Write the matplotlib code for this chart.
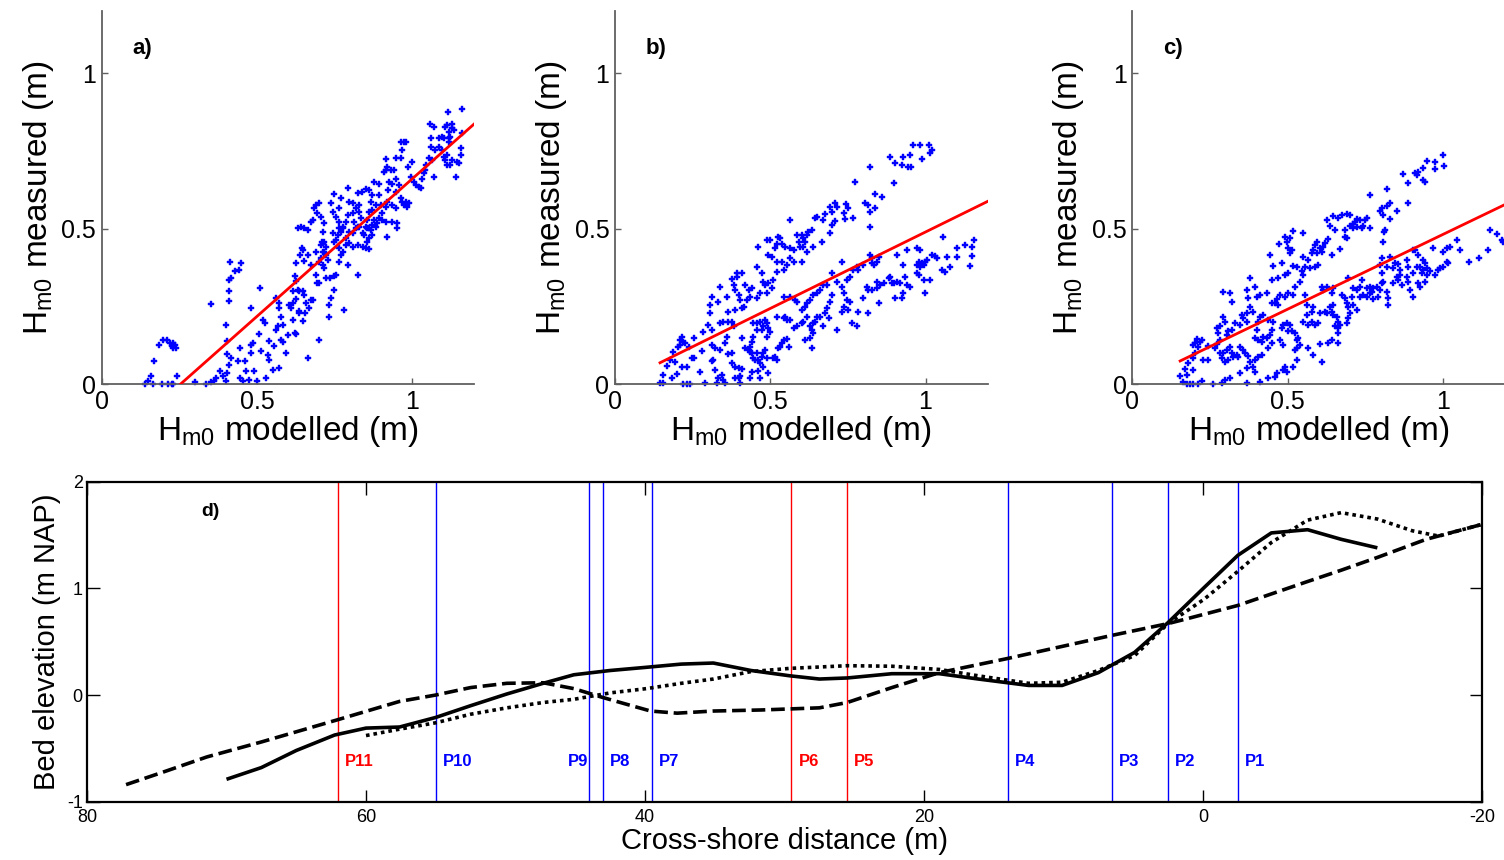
import matplotlib
matplotlib.use('Agg')
import matplotlib.pyplot as plt
import numpy as np

plt.rcParams['font.family'] = ['Liberation Sans', 'DejaVu Sans']
plt.rcParams['axes.unicode_minus'] = False
plt.rcParams['mathtext.fontset'] = 'custom'
plt.rcParams['mathtext.rm'] = 'Liberation Sans'
plt.rcParams['mathtext.it'] = 'Liberation Sans'

# ---------------- data: panel a (modelled, measured) ----------------
hm0_a = [
    (0.139, 0.000), (0.150, 0.011), (0.160, 0.025), (0.166, 0.000), (0.193, 0.000), (0.214, 0.000),
    (0.225, 0.000), (0.230, 0.000), (0.243, 0.027), (0.168, 0.073), (0.184, 0.124), (0.198, 0.143),
    (0.209, 0.143), (0.219, 0.132), (0.230, 0.132), (0.235, 0.127), (0.239, 0.116), (0.230, 0.116),
    (0.225, 0.121), (0.300, 0.007), (0.337, 0.000), (0.353, 0.007), (0.361, 0.011), (0.369, 0.019),
    (0.380, 0.041), (0.391, 0.025), (0.399, 0.009), (0.403, 0.036), (0.410, 0.060), (0.403, 0.097),
    (0.417, 0.084), (0.403, 0.139), (0.401, 0.191), (0.353, 0.257), (0.409, 0.266), (0.409, 0.298),
    (0.410, 0.335), (0.417, 0.340), (0.414, 0.394), (0.428, 0.362), (0.442, 0.367), (0.449, 0.389),
    (0.444, 0.116), (0.439, 0.073), (0.444, 0.019), (0.455, 0.009), (0.460, 0.073), (0.465, 0.041),
    (0.476, 0.014), (0.481, 0.100), (0.481, 0.127), (0.487, 0.132), (0.481, 0.246), (0.492, 0.041),
    (0.500, 0.009), (0.508, 0.161), (0.510, 0.308), (0.514, 0.105), (0.519, 0.207), (0.527, 0.196),
    (0.530, 0.019), (0.535, 0.094), (0.540, 0.078), (0.540, 0.137), (0.551, 0.046), (0.556, 0.121),
    (0.560, 0.175), (0.562, 0.278), (0.567, 0.185), (0.570, 0.260), (0.572, 0.244), (0.578, 0.217),
    (0.583, 0.191), (0.578, 0.143), (0.583, 0.135), (0.572, 0.052), (0.594, 0.100), (0.599, 0.159),
    (0.602, 0.255), (0.610, 0.244), (0.617, 0.260), (0.615, 0.207), (0.621, 0.164), (0.626, 0.161),
    (0.626, 0.274), (0.634, 0.234), (0.637, 0.228), (0.647, 0.204), (0.656, 0.228), (0.663, 0.084),
    (0.658, 0.260), (0.669, 0.244), (0.674, 0.271), (0.679, 0.271), (0.637, 0.298), (0.631, 0.303),
    (0.647, 0.298), (0.653, 0.287), (0.615, 0.298), (0.621, 0.346), (0.626, 0.330), (0.626, 0.389),
    (0.640, 0.415), (0.645, 0.437), (0.649, 0.432), (0.653, 0.396), (0.663, 0.415), (0.674, 0.383),
    (0.690, 0.351), (0.690, 0.426), (0.695, 0.324), (0.701, 0.324), (0.701, 0.143), (0.709, 0.458),
    (0.714, 0.453), (0.717, 0.426), (0.722, 0.442), (0.733, 0.255), (0.738, 0.276), (0.733, 0.217),
    (0.747, 0.303), (0.722, 0.340), (0.717, 0.373), (0.728, 0.399), (0.735, 0.340), (0.749, 0.346),
    (0.754, 0.351), (0.763, 0.394), (0.770, 0.415), (0.776, 0.426), (0.781, 0.239), (0.792, 0.383),
    (0.786, 0.447), (0.797, 0.453), (0.808, 0.442), (0.824, 0.351), (0.827, 0.447), (0.840, 0.442),
    (0.851, 0.437), (0.861, 0.435), (0.856, 0.458), (0.861, 0.469), (0.846, 0.480), (0.853, 0.501),
    (0.840, 0.485), (0.829, 0.506), (0.819, 0.501), (0.813, 0.522), (0.808, 0.549), (0.792, 0.544),
    (0.786, 0.522), (0.776, 0.506), (0.765, 0.501), (0.770, 0.490), (0.760, 0.480), (0.754, 0.464),
    (0.749, 0.458), (0.744, 0.485), (0.765, 0.522), (0.754, 0.538), (0.765, 0.565), (0.770, 0.597),
    (0.738, 0.581), (0.744, 0.554), (0.749, 0.610), (0.717, 0.517), (0.712, 0.490), (0.706, 0.538),
    (0.695, 0.549), (0.690, 0.576), (0.685, 0.565), (0.701, 0.581), (0.679, 0.528), (0.674, 0.522),
    (0.663, 0.496), (0.653, 0.501), (0.642, 0.506), (0.631, 0.501), (0.717, 0.458), (0.712, 0.426),
    (0.706, 0.447), (0.792, 0.629), (0.797, 0.587), (0.808, 0.581), (0.819, 0.565), (0.824, 0.613),
    (0.829, 0.576), (0.838, 0.619), (0.851, 0.627), (0.861, 0.624), (0.867, 0.587), (0.872, 0.608),
    (0.877, 0.651), (0.872, 0.560), (0.883, 0.576), (0.893, 0.608), (0.893, 0.645), (0.899, 0.576),
    (0.904, 0.549), (0.915, 0.571), (0.920, 0.587), (0.923, 0.624), (0.926, 0.651), (0.915, 0.688),
    (0.920, 0.699), (0.909, 0.683), (0.917, 0.724), (0.931, 0.688), (0.942, 0.688), (0.947, 0.661),
    (0.949, 0.726), (0.963, 0.728), (0.968, 0.752), (0.974, 0.779), (0.963, 0.779), (0.979, 0.779),
    (0.988, 0.699), (0.995, 0.667), (1.000, 0.715), (1.006, 0.651), (1.011, 0.640), (1.022, 0.635),
    (1.027, 0.629), (1.033, 0.661), (1.038, 0.678), (1.041, 0.688), (1.043, 0.704), (1.054, 0.726),
    (1.065, 0.720), (1.070, 0.667), (1.059, 0.763), (1.075, 0.752), (1.086, 0.763), (1.097, 0.752),
    (1.102, 0.731), (1.107, 0.720), (1.113, 0.704), (1.123, 0.704), (1.129, 0.720), (1.145, 0.715),
    (1.150, 0.710), (1.156, 0.736), (1.156, 0.758), (1.140, 0.667), (1.113, 0.736), (1.118, 0.779),
    (1.123, 0.795), (1.129, 0.822), (1.118, 0.811), (1.107, 0.827), (1.113, 0.833), (1.129, 0.835),
    (1.134, 0.817), (1.118, 0.790), (1.097, 0.795), (1.102, 0.790), (1.086, 0.790), (1.059, 0.790),
    (1.057, 0.838), (1.070, 0.827), (1.116, 0.876), (1.159, 0.884), (1.161, 0.806), (0.936, 0.645),
    (0.947, 0.619), (0.958, 0.640), (0.963, 0.597), (0.968, 0.587), (0.974, 0.576), (0.984, 0.571),
    (0.990, 0.581), (0.979, 0.587), (0.936, 0.576), (0.947, 0.565), (0.952, 0.517), (0.952, 0.501),
    (0.936, 0.522), (0.920, 0.474), (0.915, 0.522), (0.904, 0.528), (0.893, 0.533), (0.888, 0.517),
    (0.883, 0.506), (0.872, 0.512), (0.877, 0.528), (0.861, 0.501), (0.867, 0.496), (0.856, 0.528),
    (0.851, 0.506), (0.872, 0.480), (0.861, 0.554), (0.835, 0.533), (0.829, 0.554), (0.824, 0.506),
    (0.808, 0.485), (0.797, 0.490), (0.786, 0.469), (0.778, 0.501), (0.765, 0.437), (0.722, 0.415),
    (0.706, 0.405), (0.701, 0.394), (0.712, 0.383),
]

# ---------------- data: panel b ----------------
hm0_b = [
    (0.961, 0.769), (0.983, 0.769), (1.010, 0.769), (1.021, 0.753), (1.015, 0.744), (0.988, 0.723),
    (0.951, 0.737), (0.929, 0.731), (0.902, 0.710), (0.886, 0.731), (0.924, 0.704), (0.945, 0.697),
    (0.953, 0.697), (0.822, 0.697), (0.774, 0.651), (0.897, 0.648), (0.838, 0.611), (0.859, 0.603),
    (0.806, 0.583), (0.816, 0.576), (0.822, 0.554), (0.838, 0.565), (0.822, 0.506), (0.744, 0.579),
    (0.752, 0.565), (0.736, 0.549), (0.709, 0.583), (0.714, 0.570), (0.693, 0.568), (0.698, 0.554),
    (0.677, 0.547), (0.671, 0.528), (0.650, 0.538), (0.645, 0.533), (0.709, 0.525), (0.741, 0.530),
    (0.768, 0.533), (0.698, 0.511), (0.564, 0.528), (0.693, 0.485), (0.634, 0.495), (0.623, 0.490),
    (0.618, 0.479), (0.602, 0.479), (0.607, 0.469), (0.612, 0.458), (0.586, 0.479), (0.591, 0.458),
    (0.596, 0.442), (0.607, 0.442), (0.639, 0.440), (0.666, 0.458), (0.618, 0.426), (0.602, 0.394),
    (0.575, 0.431), (0.564, 0.436), (0.548, 0.442), (0.537, 0.452), (0.532, 0.469), (0.526, 0.474),
    (0.521, 0.452), (0.516, 0.436), (0.500, 0.463), (0.489, 0.463), (0.462, 0.442), (0.505, 0.410),
    (0.494, 0.415), (0.521, 0.394), (0.537, 0.394), (0.553, 0.383), (0.564, 0.404), (0.575, 0.394),
    (0.543, 0.367), (0.457, 0.377), (0.473, 0.356), (0.478, 0.329), (0.484, 0.318), (0.494, 0.324),
    (0.510, 0.335), (0.521, 0.361), (0.505, 0.308), (0.489, 0.292), (0.467, 0.292), (0.457, 0.276),
    (0.441, 0.308), (0.430, 0.302), (0.419, 0.318), (0.408, 0.356), (0.394, 0.356), (0.392, 0.345),
    (0.376, 0.337), (0.382, 0.318), (0.387, 0.302), (0.398, 0.286), (0.403, 0.270), (0.424, 0.270),
    (0.435, 0.281), (0.414, 0.249), (0.408, 0.243), (0.387, 0.238), (0.365, 0.233), (0.360, 0.281),
    (0.339, 0.313), (0.333, 0.265), (0.312, 0.281), (0.306, 0.254), (0.306, 0.227), (0.301, 0.190),
    (0.339, 0.195), (0.349, 0.201), (0.365, 0.201), (0.376, 0.201), (0.382, 0.185), (0.360, 0.152),
    (0.312, 0.174), (0.285, 0.168), (0.253, 0.147), (0.215, 0.152), (0.210, 0.142), (0.220, 0.136),
    (0.226, 0.131), (0.210, 0.126), (0.204, 0.120), (0.188, 0.104), (0.237, 0.120), (0.247, 0.083),
    (0.253, 0.083), (0.231, 0.054), (0.215, 0.054), (0.194, 0.072), (0.177, 0.077), (0.167, 0.058),
    (0.156, 0.029), (0.183, 0.018), (0.199, 0.031), (0.156, 0.002), (0.145, 0.002), (0.220, 0.000),
    (0.231, 0.000), (0.242, 0.000), (0.274, 0.040), (0.290, 0.002), (0.279, 0.107), (0.312, 0.126),
    (0.322, 0.115), (0.339, 0.109), (0.355, 0.131), (0.365, 0.097), (0.376, 0.099), (0.376, 0.067),
    (0.387, 0.056), (0.398, 0.050), (0.408, 0.047), (0.403, 0.026), (0.387, 0.018), (0.344, 0.029),
    (0.333, 0.018), (0.349, 0.013), (0.355, 0.002), (0.328, 0.002), (0.322, 0.045), (0.312, 0.075),
    (0.317, 0.077), (0.408, 0.147), (0.419, 0.115), (0.430, 0.109), (0.435, 0.120), (0.441, 0.136),
    (0.446, 0.152), (0.446, 0.195), (0.457, 0.195), (0.467, 0.201), (0.473, 0.174), (0.478, 0.185),
    (0.484, 0.206), (0.489, 0.152), (0.489, 0.195), (0.494, 0.179), (0.500, 0.168), (0.457, 0.174),
    (0.435, 0.104), (0.441, 0.099), (0.446, 0.083), (0.451, 0.077), (0.457, 0.099), (0.462, 0.077),
    (0.467, 0.067), (0.473, 0.088), (0.478, 0.099), (0.484, 0.109), (0.489, 0.083), (0.478, 0.056),
    (0.462, 0.043), (0.441, 0.040), (0.435, 0.018), (0.398, 0.018), (0.403, 0.002), (0.467, 0.018),
    (0.494, 0.034), (0.510, 0.083), (0.516, 0.088), (0.521, 0.077), (0.526, 0.115), (0.532, 0.120),
    (0.537, 0.131), (0.543, 0.142), (0.553, 0.144), (0.559, 0.120), (0.548, 0.217), (0.553, 0.206),
    (0.564, 0.206), (0.575, 0.179), (0.586, 0.185), (0.602, 0.195), (0.607, 0.201), (0.618, 0.217),
    (0.629, 0.185), (0.634, 0.174), (0.639, 0.163), (0.612, 0.142), (0.629, 0.147), (0.634, 0.115),
    (0.639, 0.195), (0.645, 0.201), (0.650, 0.217), (0.661, 0.217), (0.671, 0.185), (0.688, 0.211),
    (0.677, 0.227), (0.682, 0.243), (0.693, 0.265), (0.698, 0.286), (0.714, 0.174), (0.731, 0.233),
    (0.736, 0.249), (0.747, 0.270), (0.752, 0.238), (0.757, 0.265), (0.763, 0.195), (0.779, 0.185),
    (0.784, 0.233), (0.800, 0.276), (0.816, 0.230), (0.811, 0.313), (0.816, 0.302), (0.827, 0.302),
    (0.843, 0.308), (0.849, 0.260), (0.843, 0.329), (0.854, 0.318), (0.865, 0.324), (0.881, 0.340),
    (0.892, 0.324), (0.886, 0.345), (0.897, 0.324), (0.902, 0.276), (0.908, 0.329), (0.919, 0.324),
    (0.924, 0.276), (0.929, 0.292), (0.935, 0.345), (0.942, 0.318), (0.951, 0.313), (0.929, 0.383),
    (0.908, 0.415), (0.940, 0.431), (0.972, 0.436), (0.983, 0.431), (0.978, 0.394), (0.972, 0.383),
    (0.983, 0.377), (0.994, 0.383), (0.999, 0.394), (0.988, 0.388), (1.004, 0.399), (0.972, 0.356),
    (0.978, 0.351), (0.994, 0.335), (1.015, 0.335), (0.999, 0.294), (1.021, 0.415), (1.031, 0.412),
    (1.037, 0.404), (1.053, 0.367), (1.064, 0.361), (1.080, 0.377), (1.069, 0.410), (1.101, 0.410),
    (1.101, 0.436), (1.128, 0.447), (1.149, 0.442), (1.155, 0.463), (1.149, 0.412), (1.144, 0.380),
    (1.056, 0.474), (0.827, 0.404), (0.827, 0.388), (0.833, 0.383), (0.843, 0.394), (0.849, 0.410),
    (0.822, 0.415), (0.800, 0.383), (0.779, 0.377), (0.784, 0.367), (0.768, 0.367), (0.757, 0.345),
    (0.747, 0.335), (0.731, 0.313), (0.736, 0.292), (0.714, 0.329), (0.698, 0.356), (0.682, 0.318),
    (0.671, 0.318), (0.661, 0.302), (0.650, 0.292), (0.639, 0.286), (0.629, 0.270), (0.618, 0.260),
    (0.612, 0.249), (0.602, 0.238), (0.586, 0.265), (0.580, 0.270), (0.564, 0.281), (0.543, 0.281),
    (0.543, 0.211), (0.521, 0.217), (0.731, 0.394),
]

# ---------------- data: panel c ----------------
hm0_c = [
    (1.000, 0.737), (0.975, 0.715), (0.948, 0.719), (1.004, 0.701), (0.975, 0.691), (0.937, 0.694),
    (0.921, 0.683), (0.911, 0.678), (0.916, 0.672), (0.873, 0.676), (0.937, 0.656), (0.943, 0.651),
    (0.889, 0.648), (0.819, 0.626), (0.766, 0.608), (0.889, 0.583), (0.830, 0.581), (0.819, 0.573),
    (0.803, 0.565), (0.798, 0.555), (0.809, 0.544), (0.854, 0.558), (0.830, 0.530), (0.814, 0.496),
    (0.811, 0.490), (0.806, 0.458), (0.755, 0.533), (0.750, 0.528), (0.733, 0.528), (0.723, 0.530),
    (0.717, 0.522), (0.712, 0.515), (0.701, 0.508), (0.690, 0.547), (0.701, 0.544), (0.674, 0.544),
    (0.664, 0.533), (0.647, 0.541), (0.626, 0.528), (0.637, 0.508), (0.653, 0.496), (0.685, 0.496),
    (0.712, 0.501), (0.723, 0.504), (0.739, 0.501), (0.744, 0.508), (0.766, 0.501), (0.685, 0.474),
    (0.690, 0.469), (0.631, 0.466), (0.621, 0.453), (0.615, 0.442), (0.605, 0.437), (0.594, 0.458),
    (0.588, 0.447), (0.583, 0.431), (0.578, 0.421), (0.594, 0.421), (0.610, 0.426), (0.669, 0.433),
    (0.642, 0.415), (0.599, 0.383), (0.588, 0.378), (0.567, 0.399), (0.551, 0.410), (0.556, 0.378),
    (0.545, 0.362), (0.572, 0.372), (0.529, 0.378), (0.519, 0.380), (0.508, 0.421), (0.513, 0.431),
    (0.502, 0.437), (0.497, 0.458), (0.508, 0.469), (0.492, 0.474), (0.519, 0.493), (0.551, 0.487),
    (0.473, 0.451), (0.443, 0.415), (0.454, 0.380), (0.481, 0.388), (0.492, 0.351), (0.502, 0.356),
    (0.470, 0.340), (0.449, 0.335), (0.524, 0.313), (0.540, 0.329), (0.551, 0.351), (0.556, 0.287),
    (0.519, 0.287), (0.502, 0.292), (0.492, 0.281), (0.476, 0.287), (0.465, 0.273), (0.460, 0.260),
    (0.470, 0.254), (0.449, 0.260), (0.433, 0.292), (0.411, 0.287), (0.400, 0.281), (0.395, 0.313),
    (0.379, 0.340), (0.368, 0.303), (0.374, 0.276), (0.379, 0.249), (0.390, 0.233), (0.368, 0.227),
    (0.352, 0.222), (0.358, 0.211), (0.368, 0.201), (0.347, 0.190), (0.331, 0.195), (0.320, 0.265),
    (0.293, 0.297), (0.315, 0.292), (0.293, 0.217), (0.298, 0.201), (0.282, 0.185), (0.272, 0.179),
    (0.277, 0.163), (0.304, 0.158), (0.309, 0.169), (0.320, 0.174), (0.282, 0.142), (0.272, 0.129),
    (0.266, 0.115), (0.245, 0.122), (0.223, 0.142), (0.218, 0.136), (0.207, 0.144), (0.202, 0.131),
    (0.213, 0.120), (0.196, 0.126), (0.202, 0.099), (0.196, 0.083), (0.180, 0.067), (0.170, 0.047),
    (0.196, 0.045), (0.175, 0.029), (0.153, 0.026), (0.164, 0.008), (0.175, 0.000), (0.186, 0.000),
    (0.196, 0.000), (0.213, 0.000), (0.223, 0.011), (0.229, 0.077), (0.245, 0.077), (0.261, 0.000),
    (0.288, 0.002), (0.298, 0.013), (0.315, 0.018), (0.347, 0.035), (0.368, 0.051), (0.395, 0.040),
    (0.368, 0.002), (0.411, 0.008), (0.438, 0.018), (0.460, 0.024), (0.465, 0.035), (0.486, 0.045),
    (0.492, 0.056), (0.497, 0.040), (0.519, 0.056), (0.529, 0.077), (0.524, 0.110), (0.529, 0.115),
    (0.540, 0.126), (0.535, 0.147), (0.529, 0.142), (0.524, 0.163), (0.513, 0.169), (0.508, 0.190),
    (0.497, 0.195), (0.486, 0.190), (0.481, 0.179), (0.449, 0.174), (0.454, 0.201), (0.438, 0.206),
    (0.422, 0.222), (0.411, 0.217), (0.406, 0.201), (0.400, 0.174), (0.395, 0.147), (0.406, 0.142),
    (0.417, 0.136), (0.422, 0.152), (0.433, 0.147), (0.443, 0.158), (0.449, 0.131), (0.438, 0.115),
    (0.417, 0.094), (0.406, 0.088), (0.395, 0.077), (0.390, 0.056), (0.379, 0.072), (0.374, 0.090),
    (0.363, 0.099), (0.358, 0.110), (0.347, 0.120), (0.341, 0.088), (0.336, 0.094), (0.325, 0.088),
    (0.320, 0.099), (0.315, 0.120), (0.309, 0.077), (0.293, 0.099), (0.288, 0.083), (0.282, 0.099),
    (0.298, 0.072), (0.304, 0.110), (0.476, 0.142), (0.486, 0.126), (0.502, 0.169), (0.567, 0.115),
    (0.583, 0.094), (0.610, 0.072), (0.605, 0.129), (0.631, 0.131), (0.642, 0.142), (0.664, 0.131),
    (0.567, 0.190), (0.578, 0.201), (0.588, 0.190), (0.599, 0.195), (0.605, 0.227), (0.621, 0.233),
    (0.626, 0.227), (0.642, 0.233), (0.647, 0.222), (0.658, 0.217), (0.664, 0.201), (0.669, 0.190),
    (0.664, 0.179), (0.653, 0.185), (0.637, 0.249), (0.647, 0.254), (0.674, 0.287), (0.685, 0.276),
    (0.690, 0.260), (0.696, 0.249), (0.701, 0.227), (0.696, 0.211), (0.690, 0.195), (0.664, 0.163),
    (0.626, 0.313), (0.610, 0.313), (0.615, 0.303), (0.642, 0.292), (0.647, 0.308), (0.583, 0.249),
    (0.562, 0.254), (0.578, 0.233), (0.562, 0.222), (0.551, 0.201), (0.733, 0.281), (0.744, 0.287),
    (0.755, 0.281), (0.766, 0.292), (0.771, 0.297), (0.776, 0.308), (0.766, 0.313), (0.755, 0.308),
    (0.739, 0.335), (0.723, 0.303), (0.712, 0.308), (0.707, 0.281), (0.696, 0.340), (0.712, 0.254),
    (0.723, 0.238), (0.733, 0.313), (0.776, 0.273), (0.792, 0.281), (0.798, 0.303), (0.787, 0.313),
    (0.803, 0.324), (0.819, 0.297), (0.825, 0.276), (0.825, 0.254), (0.809, 0.329), (0.841, 0.324),
    (0.852, 0.345), (0.857, 0.335), (0.862, 0.351), (0.868, 0.319), (0.846, 0.388), (0.830, 0.410),
    (0.803, 0.404), (0.798, 0.383), (0.803, 0.356), (0.819, 0.378), (0.841, 0.372), (0.857, 0.386),
    (0.862, 0.367), (0.884, 0.399), (0.889, 0.378), (0.884, 0.345), (0.889, 0.329), (0.895, 0.303),
    (0.905, 0.281), (0.905, 0.356), (0.916, 0.378), (0.927, 0.378), (0.911, 0.431), (0.921, 0.415),
    (0.937, 0.399), (0.943, 0.388), (0.948, 0.372), (0.937, 0.367), (0.948, 0.351), (0.959, 0.362),
    (0.932, 0.356), (0.921, 0.324), (0.927, 0.313), (0.943, 0.329), (0.975, 0.351), (0.986, 0.367),
    (0.991, 0.372), (1.002, 0.378), (1.013, 0.394), (1.018, 0.388), (1.023, 0.442), (1.013, 0.437),
    (1.002, 0.426), (0.970, 0.437), (1.045, 0.463), (1.056, 0.431), (1.083, 0.394), (1.115, 0.404),
    (1.147, 0.431), (1.152, 0.496), (1.174, 0.481), (1.190, 0.463), (1.195, 0.458), (0.905, 0.431),
]

# linear fits (slope, intercept, first modelled value)
fit_slope = [0.885, 0.492, 0.481]
fit_icpt = [-0.225, -0.003, 0.000]
fit_xstart = [0.145, 0.145, 0.154]
panel_letters = ['a)', 'b)', 'c)']

# ---------------- data: panel d (bed profiles) ----------------
prof1_x = [70.0, 67.5, 65.0, 62.25, 60.0, 57.6, 55.0, 52.5, 49.9, 47.3, 45.1, 42.5, 39.9, 37.4,
           35.1, 32.4, 29.6, 27.5, 25.5, 22.3, 18.9, 16.1, 12.5, 10.1, 7.5, 4.9, 2.5, -0.1,
           -2.5, -4.9, -7.5, -9.9, -12.5]
prof1_y = [-0.79, -0.68, -0.52, -0.375, -0.31, -0.30, -0.21, -0.10, 0.01, 0.11, 0.19, 0.23, 0.26,
           0.29, 0.30, 0.23, 0.18, 0.15, 0.16, 0.20, 0.20, 0.15, 0.09, 0.09, 0.21, 0.40, 0.68, 1.01,
           1.31, 1.52, 1.55, 1.46, 1.38]

prof2_x = [77.2, 74.6, 71.4, 67.5, 62.25, 57.6, 55.0, 52.5, 49.9, 47.3, 45.1, 43.1, 41.5, 39.6,
           37.7, 35.1, 31.65, 27.5, 25.5, 22.3, 18.9, 14.1, 6.5, 2.5, 1.3, -2.5, -7.4, -9.9,
           -12.5, -16.0, -20.0]
prof2_y = [-0.84, -0.725, -0.58, -0.44, -0.24, -0.06, 0.0, 0.07, 0.11, 0.115, 0.06, -0.02, -0.08,
           -0.15, -0.17, -0.15, -0.14, -0.12, -0.07, 0.07, 0.21, 0.34, 0.56, 0.67, 0.71, 0.84, 1.06,
           1.17, 1.29, 1.46, 1.60]

prof3_x = [60.0, 57.6, 55.0, 52.5, 49.9, 47.3, 45.1, 42.5, 39.9, 37.4, 35.1, 32.4, 29.6, 25.5,
           22.3, 18.9, 16.1, 12.5, 10.1, 7.5, 4.9, 2.5, -0.1, -2.5, -4.9, -7.5, -9.9, -12.5,
           -15.0, -16.9, -20.0]
prof3_y = [-0.38, -0.32, -0.26, -0.18, -0.12, -0.07, -0.04, 0.02, 0.06, 0.11, 0.15, 0.22, 0.25,
           0.275, 0.27, 0.24, 0.18, 0.11, 0.12, 0.23, 0.37, 0.67, 0.90, 1.16, 1.43, 1.64, 1.71,
           1.65, 1.54, 1.49, 1.60]

sensor_names = ['P11', 'P10', 'P9', 'P8', 'P7', 'P6', 'P5', 'P4', 'P3', 'P2', 'P1']
sensor_x = [62.0, 55.0, 44.0, 43.0, 39.5, 29.5, 25.5, 14.0, 6.5, 2.5, -2.5]
sensor_color = ['#ff0000', '#0000ff', '#0000ff', '#0000ff', '#0000ff', '#ff0000', '#ff0000',
                '#0000ff', '#0000ff', '#0000ff', '#0000ff']

# ---------------- figure ----------------
W, H = 1504, 860
fig = plt.figure(figsize=(W / 100, H / 100), dpi=100)

top_left_px = [101.7, 615.0, 1132.3]
for i, pts in enumerate([hm0_a, hm0_b, hm0_c]):
    ax = fig.add_axes([top_left_px[i] / W, 1 - 384 / H, 372.6 / W, 373 / H])
    xs, ys = zip(*pts)
    ax.plot(xs, ys, linestyle='none', marker='P', ms=4.6, color='#0000ff',
            mec='#0000ff', mew=0.3, clip_on=False, zorder=2)
    fx = np.array([fit_xstart[i], 1.2])
    ax.plot(fx, fit_slope[i] * fx + fit_icpt[i], color='#ff0000', lw=2.0, zorder=3)
    ax.set_xlim(0, 1.2)
    ax.set_ylim(0, 1.2)
    ax.set_xticks([0, 0.5, 1])
    ax.set_yticks([0, 0.5, 1])
    ax.set_xticklabels(['0', '0.5', '1'])
    ax.set_yticklabels(['0', '0.5', '1'])
    for s in ['top', 'right']:
        ax.spines[s].set_visible(False)
    for s in ['left', 'bottom']:
        ax.spines[s].set_color('#606060')
        ax.spines[s].set_linewidth(1.3)
    ax.tick_params(direction='in', length=4, width=1, colors='#606060',
                   labelcolor='black', labelsize=18, pad=4)
    ax.set_xlabel(r'H$_{\mathregular{m0}}$ modelled (m)', fontsize=24, labelpad=0)
    ax.set_ylabel(r'H$_{\mathregular{m0}}$ measured (m)', fontsize=24, labelpad=4)
    ax.text(0.1, 1.08, panel_letters[i], fontsize=16, fontweight='bold', va='center', ha='left')

# bottom panel
axd = fig.add_axes([87 / W, 1 - 801.7 / H, 1395 / W, 320 / H])
for xv, c in zip(sensor_x, sensor_color):
    axd.axvline(xv, color=c, lw=1.0, zorder=1)
for name, xv, c in zip(sensor_names, sensor_x, sensor_color):
    if name == 'P9':
        axd.text(xv + 0.1, -0.62, name, color=c, fontsize=12, fontweight='bold',
                 ha='right', va='center')
    else:
        axd.text(xv - 0.5, -0.62, name, color=c, fontsize=12, fontweight='bold',
                 ha='left', va='center')

axd.plot(prof1_x, prof1_y, color='black', lw=2.6, solid_capstyle='butt', zorder=3)
axd.plot(prof2_x, prof2_y, color='black', lw=2.6, dashes=(3.8, 1.6), zorder=3)
axd.plot(prof3_x, prof3_y, color='black', lw=2.6, dashes=(1.0, 1.1), zorder=3)

axd.set_xlim(80, -20)
axd.set_ylim(-1, 2)
axd.set_xticks([80, 60, 40, 20, 0, -20])
axd.set_yticks([-1, 0, 1, 2])
axd.set_xticklabels(['80', '60', '40', '20', '0', '-20'])
axd.set_yticklabels(['-1', '0', '1', '2'])
for s in axd.spines.values():
    s.set_linewidth(1.6)
    s.set_color('black')
axd.tick_params(direction='in', length=9, width=1, top=True, right=True,
                labelsize=13, pad=3)
axd.tick_params(axis='x', pad=5)
axd.set_xlabel('Cross-shore distance (m)', fontsize=21, labelpad=1)
axd.set_ylabel('Bed elevation (m NAP)', fontsize=21, labelpad=4)
axd.text(71.8, 1.72, 'd)', fontsize=14, fontweight='bold', ha='left', va='center')

fig.savefig('out.png', dpi=100)
